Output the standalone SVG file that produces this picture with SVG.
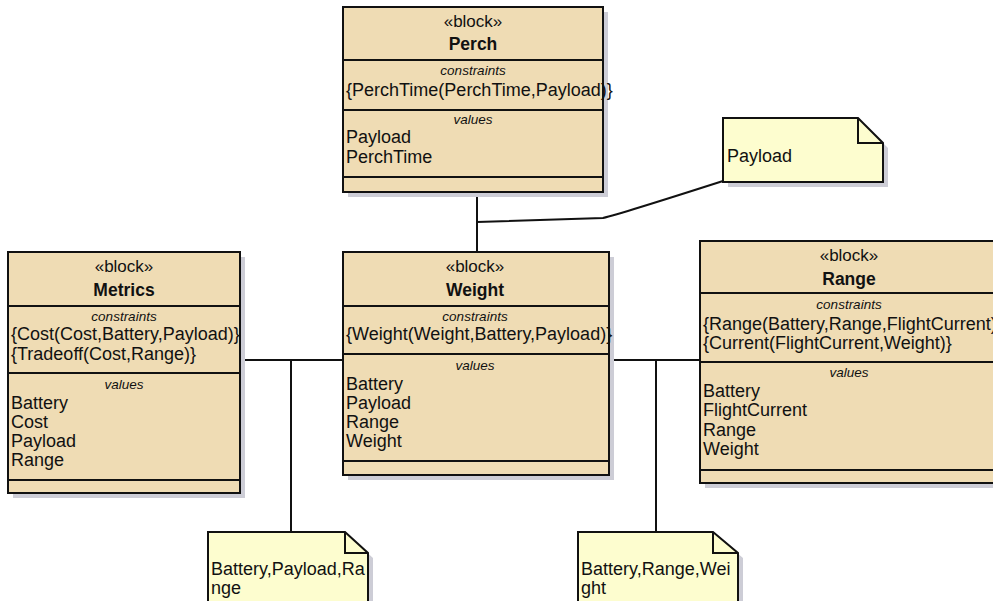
<svg xmlns="http://www.w3.org/2000/svg" width="993" height="601" viewBox="0 0 993 601">
<defs>
<style>
.blk{fill:#efdcb4;stroke:#111;stroke-width:2}
.note{fill:#fdfdcf;stroke:#111;stroke-width:2}
.sh{fill:#cdcdd6}
.dv{stroke:#111;stroke-width:2}
.con{fill:none;stroke:#111;stroke-width:2}
text{font-family:"Liberation Sans",Arial,sans-serif;fill:#111}
.st{font-size:17px;text-anchor:middle}
.nm{font-size:17.5px;font-weight:bold;text-anchor:middle}
.cp{font-size:13.5px;font-style:italic;text-anchor:middle}
.t{font-size:18px}
</style>
</defs>
<rect width="993" height="601" fill="#ffffff"/>

<g id="connectors">
<path class="con" d="M477,192 V252"/>
<path class="con" d="M477,222 L603,218 Q620,214 723,181"/>
<path class="con" d="M240,360 H343"/>
<path class="con" d="M291,360 V532"/>
<path class="con" d="M609,360 H700"/>
<path class="con" d="M656,360 V532"/>
</g>

<g id="perch">
<rect class="sh" x="348" y="12" width="260" height="185"/>
<rect class="blk" x="343" y="7" width="260" height="185"/>
<line class="dv" x1="343" y1="60" x2="603" y2="60"/>
<line class="dv" x1="343" y1="110" x2="603" y2="110"/>
<line class="dv" x1="343" y1="177" x2="603" y2="177"/>
<text class="st" x="473" y="27">«block»</text>
<text class="nm" x="473" y="50">Perch</text>
<text class="cp" x="473" y="75">constraints</text>
<text class="t" x="346" y="96">{PerchTime(PerchTime,Payload)}</text>
<text class="cp" x="473" y="124">values</text>
<text class="t" x="346" y="143">Payload</text>
<text class="t" x="346" y="163">PerchTime</text>
</g>

<g id="metrics">
<rect class="sh" x="13" y="257" width="232" height="241"/>
<rect class="blk" x="8" y="252" width="232" height="241"/>
<line class="dv" x1="8" y1="306" x2="240" y2="306"/>
<line class="dv" x1="8" y1="373" x2="240" y2="373"/>
<line class="dv" x1="8" y1="480" x2="240" y2="480"/>
<text class="st" x="124" y="272">«block»</text>
<text class="nm" x="124" y="296">Metrics</text>
<text class="cp" x="124" y="321">constraints</text>
<text class="t" x="11" y="340">{Cost(Cost,Battery,Payload)}</text>
<text class="t" x="11" y="360">{Tradeoff(Cost,Range)}</text>
<text class="cp" x="124" y="389">values</text>
<text class="t" x="11" y="409">Battery</text>
<text class="t" x="11" y="428">Cost</text>
<text class="t" x="11" y="447">Payload</text>
<text class="t" x="11" y="466">Range</text>
</g>

<g id="weight">
<rect class="sh" x="348" y="257" width="266" height="223"/>
<rect class="blk" x="343" y="252" width="266" height="223"/>
<line class="dv" x1="343" y1="306" x2="609" y2="306"/>
<line class="dv" x1="343" y1="354" x2="609" y2="354"/>
<line class="dv" x1="343" y1="461" x2="609" y2="461"/>
<text class="st" x="475" y="272">«block»</text>
<text class="nm" x="475" y="296">Weight</text>
<text class="cp" x="475" y="321">constraints</text>
<text class="t" x="346" y="340">{Weight(Weight,Battery,Payload)}</text>
<text class="cp" x="475" y="370">values</text>
<text class="t" x="346" y="390">Battery</text>
<text class="t" x="346" y="409">Payload</text>
<text class="t" x="346" y="428">Range</text>
<text class="t" x="346" y="447">Weight</text>
</g>

<g id="range">
<rect class="sh" x="705" y="246" width="300" height="242"/>
<rect class="blk" x="700" y="241" width="300" height="242"/>
<line class="dv" x1="700" y1="293" x2="993" y2="293"/>
<line class="dv" x1="700" y1="362" x2="993" y2="362"/>
<line class="dv" x1="700" y1="470" x2="993" y2="470"/>
<text class="st" x="849" y="261">«block»</text>
<text class="nm" x="849" y="285">Range</text>
<text class="cp" x="849" y="309">constraints</text>
<text class="t" x="703" y="330">{Range(Battery,Range,FlightCurrent)}</text>
<text class="t" x="703" y="349">{Current(FlightCurrent,Weight)}</text>
<text class="cp" x="849" y="377">values</text>
<text class="t" x="703" y="397">Battery</text>
<text class="t" x="703" y="416">FlightCurrent</text>
<text class="t" x="703" y="436">Range</text>
<text class="t" x="703" y="455">Weight</text>
</g>

<g id="note-payload">
<path class="sh" d="M728,123 H863 L888,148 V187 H728 Z"/>
<path class="note" d="M723,118 H858 L883,143 V182 H723 Z"/>
<path class="con" d="M858,118 V143 H883"/>
<text class="t" x="727" y="162">Payload</text>
</g>

<g id="note-bpr">
<path class="sh" d="M213,537 H350 L373,558 V606 H213 Z"/>
<path class="note" d="M208,532 H345 L368,553 V606 H208 Z"/>
<path class="con" d="M345,532 V553 H368"/>
<text class="t" x="211" y="575">Battery,Payload,Ra</text>
<text class="t" x="211" y="594">nge</text>
</g>

<g id="note-brw">
<path class="sh" d="M583,537 H718 L743,558 V606 H583 Z"/>
<path class="note" d="M578,532 H713 L738,553 V606 H578 Z"/>
<path class="con" d="M713,532 V553 H738"/>
<text class="t" x="581" y="575">Battery,Range,Wei</text>
<text class="t" x="581" y="594">ght</text>
</g>
</svg>
